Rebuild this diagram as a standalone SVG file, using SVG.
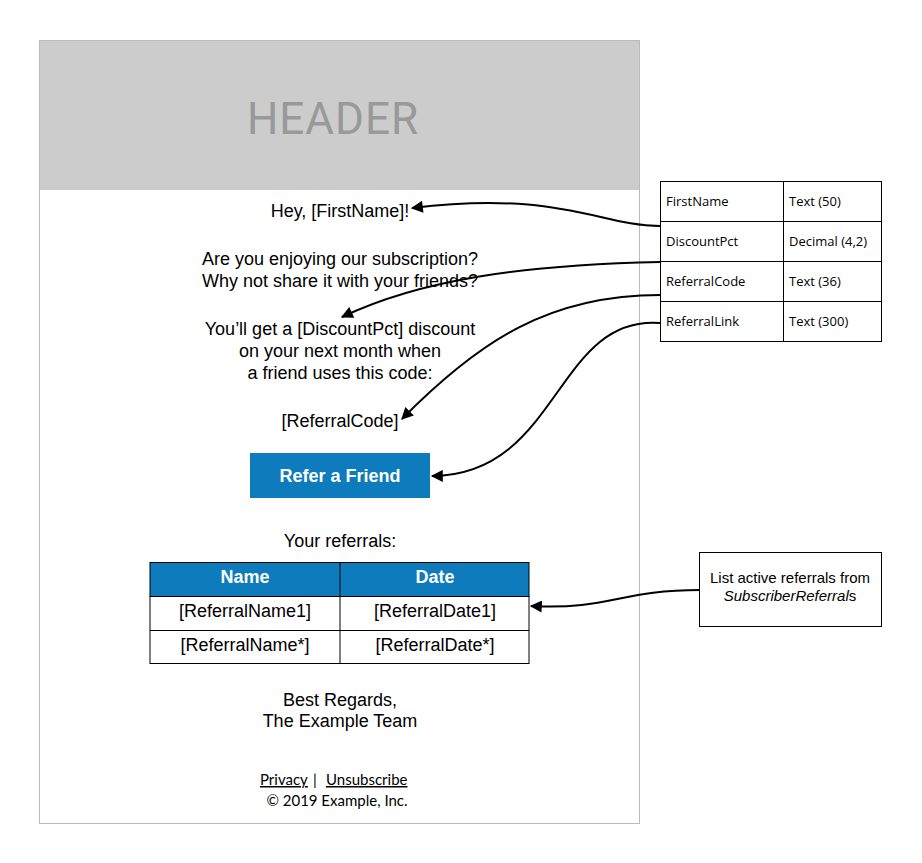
<svg xmlns="http://www.w3.org/2000/svg" width="922" height="863" viewBox="0 0 922 863">
<style>
.t{font-family:"Liberation Sans",Arial,sans-serif;font-size:18px;fill:#000;text-anchor:middle}
.th{font-family:"Liberation Sans",Arial,sans-serif;font-size:18px;font-weight:bold;fill:#fff;text-anchor:middle}
.f{font-family:Lato,"Liberation Sans",sans-serif;font-size:15px;fill:#000}
.s{font-family:"Open Sans","Liberation Sans",sans-serif;font-size:13px;fill:#000}
.b{fill:#fff;stroke:#000;stroke-width:1}
</style>
<defs>
<marker id="ah2" viewBox="0 0 10 10" refX="9" refY="5" markerWidth="18" markerHeight="12" markerUnits="userSpaceOnUse" orient="auto">
<path d="M0,0 L10,5 L0,10 Z" fill="#000"/>
</marker>
</defs>
<rect width="922" height="863" fill="#fff"/>
<g id="email">
<rect x="39.5" y="40.5" width="600" height="783" fill="#fff" stroke="#bbb"/>
<rect x="40" y="41" width="599" height="149" fill="#cccccc"/>
<text x="333" y="134" font-family="Roboto,'Liberation Sans',sans-serif" font-size="44" fill="#999" text-anchor="middle" letter-spacing="1">HEADER</text>
<text class="t" x="340" y="217">Hey, [FirstName]!</text>
<text class="t" x="340" y="265">Are you enjoying our subscription?</text>
<text class="t" x="340" y="287">Why not share it with your friends?</text>
<text class="t" x="340" y="335">You’ll get a [DiscountPct] discount</text>
<text class="t" x="340" y="357">on your next month when</text>
<text class="t" x="340" y="379">a friend uses this code:</text>
<text class="t" x="340" y="427">[ReferralCode]</text>
</g>
<g id="button">
<rect x="250" y="453" width="180" height="45" fill="#0e7bbd"/>
<text class="th" x="340" y="482" font-size="19">Refer a Friend</text>
</g>
<g id="referrals">
<text class="t" x="340" y="547">Your referrals:</text>
<rect x="150" y="562.5" width="379" height="34" fill="#0e7bbd" stroke="#000"/>
<rect class="b" x="150" y="596.5" width="379" height="67"/>
<line x1="150" y1="630.5" x2="529" y2="630.5" stroke="#000"/>
<line x1="340" y1="562.5" x2="340" y2="663.5" stroke="#000"/>
<text class="th" x="245" y="583">Name</text>
<text class="th" x="435" y="583">Date</text>
<text class="t" x="245" y="617">[ReferralName1]</text>
<text class="t" x="435" y="617">[ReferralDate1]</text>
<text class="t" x="245" y="651">[ReferralName*]</text>
<text class="t" x="435" y="651">[ReferralDate*]</text>
</g>
<g id="footer">
<text class="t" x="340" y="706">Best Regards,</text>
<text class="t" x="340" y="727">The Example Team</text>
<text class="f" x="260" y="785" text-decoration="underline">Privacy</text>
<text class="f" x="313" y="785">|</text>
<text class="f" x="326" y="785" text-decoration="underline">Unsubscribe</text>
<text class="f" x="337" y="806" text-anchor="middle">© 2019 Example, Inc.</text>
</g>
<g id="fields">
<rect class="b" x="660.5" y="181.5" width="221" height="160"/>
<line x1="660" y1="221.5" x2="882" y2="221.5" stroke="#000"/>
<line x1="660" y1="261.5" x2="882" y2="261.5" stroke="#000"/>
<line x1="660" y1="301.5" x2="882" y2="301.5" stroke="#000"/>
<line x1="783.5" y1="181" x2="783.5" y2="342" stroke="#000"/>
<text class="s" x="666" y="206">FirstName</text>
<text class="s" x="789" y="206">Text (50)</text>
<text class="s" x="666" y="246">DiscountPct</text>
<text class="s" x="789" y="246">Decimal (4,2)</text>
<text class="s" x="666" y="286">ReferralCode</text>
<text class="s" x="789" y="286">Text (36)</text>
<text class="s" x="666" y="326">ReferralLink</text>
<text class="s" x="789" y="326">Text (300)</text>
</g>
<g id="note">
<rect class="b" x="699.5" y="552.5" width="182" height="74"/>
<text x="790" y="583" font-family="'Liberation Sans',Arial,sans-serif" font-size="15" text-anchor="middle">List active referrals from</text>
<text x="790" y="601" font-family="'Liberation Sans',Arial,sans-serif" font-size="15" text-anchor="middle"><tspan font-style="italic">SubscriberReferral</tspan>s</text>
</g>
<g id="connectors" fill="none" stroke="#000" stroke-width="2">
<path d="M660,226 C600,226 560,190 412,208" marker-end="url(#ah2)"/>
<path d="M660,262 C520,265 420,280 342,317" marker-end="url(#ah2)"/>
<path d="M660,295 C550,295 480,340 402,419" marker-end="url(#ah2)"/>
<path d="M660,323 C555,315 560,475 432,476" marker-end="url(#ah2)"/>
<path d="M700,590 C620,590 610,610 531,606" marker-end="url(#ah2)"/>
</g>
</svg>
